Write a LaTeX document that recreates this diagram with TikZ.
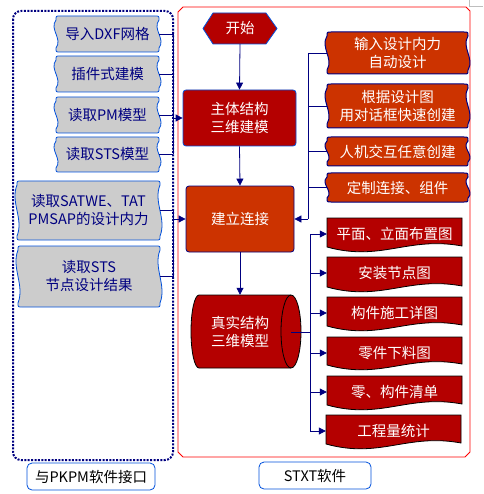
\documentclass[tikz,border=0pt]{standalone}
\usepackage{fontspec}
\newfontfamily\cjk{Noto Sans CJK SC}
\usetikzlibrary{arrows.meta}
\definecolor{dred}{RGB}{180,0,0}
\definecolor{ored}{RGB}{204,51,0}
\definecolor{gfill}{RGB}{204,204,204}
\definecolor{bbd}{RGB}{0,80,220}
\definecolor{navy}{RGB}{0,0,128}
\definecolor{lgray}{RGB}{190,190,190}
% wavy-sided box outline with rounded corners: x1 y1 x2 y2 style
\newcommand\wavyshape[5]{%
  \path[#5] ({#1+4},#2) -- ({#3-4},#2) .. controls (#3,#2) .. (#3,{#2+4})
    .. controls ({#3-7},{#2+4+(#4-#2-8)/3}) and ({#3+7},{#2+4+2*(#4-#2-8)/3}) .. (#3,{#4-4})
    .. controls (#3,#4) .. ({#3-4},#4) -- ({#1+4},#4) .. controls (#1,#4) .. (#1,{#4-4})
    .. controls ({#1+7},{#2+4+2*(#4-#2-8)/3}) and ({#1-7},{#2+4+(#4-#2-8)/3}) .. (#1,{#2+4})
    .. controls (#1,#2) .. cycle;}
% name x1 y1 x2 y2 shapestyle textstyle text
\newcommand\wbox[8]{%
  \wavyshape{#2}{#3}{#4}{#5}{#6}
  \node[#7, minimum width={(#4-#2)*1pt}, minimum height={(#5-#3)*1pt}] (#1) at ({(#2+#4)/2},{(#3+#5)/2}) {#8};}
% document shape: name x1 y1 x2 yb text
\newcommand\dbox[6]{%
  \path[docbox] (#2,#3) -- (#4,#3) -- (#4,{#5-6}) .. controls ({#4-0.4*(#4-#2)},{#5-16}) and ({#2+0.4*(#4-#2)},{#5+10}) .. (#2,{#5-5}) -- cycle;
  \node[wtext, minimum width={(#4-#2)*1pt}] (#1) at ({(#2+#4)/2},{#3+16}) {#6};}
\tikzset{
  gbox/.style={fill=gfill, draw=bbd, line width=0.8pt},
  obox/.style={fill=ored, draw=navy, line width=1pt},
  docbox/.style={fill=dred, draw=black, line width=0.8pt},
  gtext/.style={font=\cjk\fontsize{14.5}{18}\selectfont, text=navy, align=center, inner sep=0pt},
  wtext/.style={font=\cjk\fontsize{14.5}{18}\selectfont, text=white, align=center, inner sep=0pt},
  conn/.style={draw=navy, line width=0.8pt},
  arr/.style={conn, -{Triangle[length=7pt,width=7pt]}},
  lab/.style={draw=bbd, line width=0.8pt, rounded corners=5pt, fill=white, inner sep=0pt,
    font=\cjk\fontsize{14.5}{18}\selectfont, text=black},
}
\begin{document}
\begin{tikzpicture}[x=1pt,y=-1pt]
\useasboundingbox (0,0) rectangle (483,494);
% corner mark
\draw[lgray, line width=0.8pt] (469,0) -- (469,6) -- (483,6);
% frames
\draw[navy, line width=2pt, dash pattern=on 2pt off 1.4pt, rounded corners=8pt] (13,11) rectangle (173,460);
\draw[red, line width=0.8pt] (183,7) -- (466,7) -- (470,11) -- (470,452) -- (465,457) -- (183,457) -- (178,452) -- (178,12) -- cycle;
% left gray boxes
\wbox{g1}{56}{16}{159}{52}{gbox}{gtext}{导入DXF网格}
\wbox{g2}{56}{56}{159}{92}{gbox}{gtext}{插件式建模}
\wbox{g3}{56}{97}{159}{133}{gbox}{gtext}{读取PM模型}
\wbox{g4}{56}{137}{159}{172}{gbox}{gtext}{读取STS模型}
\wbox{g5}{17}{181}{160}{240}{gbox}{gtext}{读取SATWE、TAT\\PMSAP的设计内力}
\wbox{g6}{18}{246}{160}{307}{gbox}{gtext}{读取STS\\节点设计结果}
% right orange boxes
\wbox{o1}{327}{32}{468}{74}{obox}{wtext}{输入设计内力\\自动设计}
\wbox{o2}{327}{84}{468}{128}{obox}{wtext}{根据设计图\\用对话框快速创建}
\wbox{o3}{327}{137}{468}{166}{obox}{wtext}{人机交互任意创建}
\wbox{o4}{327}{173}{468}{202}{obox}{wtext}{定制连接、组件}
% document boxes
\dbox{d1}{327}{218}{462}{252}{平面、立面布置图}
\dbox{d2}{327}{257}{462}{292}{安装节点图}
\dbox{d3}{327}{297}{462}{331}{构件施工详图}
\dbox{d4}{327}{337}{462}{370}{零件下料图}
\dbox{d5}{327}{376}{462}{410}{零、构件清单}
\dbox{d6}{326}{415}{461}{449}{工程量统计}
% start
\path[fill=dred, draw=bbd, line width=0.8pt] (203,28.5) -- (213,13) -- (266,13) -- (277,28.5) -- (266,44) -- (213,44) -- cycle;
\node[wtext, minimum width=74pt, minimum height=31pt] (start) at (240,28.5) {开始};
% main boxes
\node[wtext, fill=dred, draw=bbd, line width=0.8pt, rounded corners=3pt, minimum width=113pt, minimum height=56pt] (main) at (239.5,118) {主体结构\\三维建模};
\node[wtext, fill=ored, draw=navy, line width=0.8pt, rounded corners=3pt, minimum width=108pt, minimum height=66pt] (link) at (240,219) {建立连接};
% cylinder
\path[fill=dred, draw=black, line width=0.8pt] (291,295) arc (-90:90:10 and 36.5) -- (199,368) arc (90:270:8 and 36.5) -- cycle;
\draw[black, line width=0.8pt] (291,295) arc (270:90:10 and 36.5);
\node[wtext, minimum width=112pt, minimum height=73pt] (cyl) at (240,331.5) {真实结构\\三维模型};
\coordinate (cylend) at (291,332);
% bus coordinates
\coordinate (busL) at (173,0);
\coordinate (busR) at (308,0);
\coordinate (busD) at (310,0);
% left upper bus
\foreach \n in {g1,g2,g3,g4} \draw[conn] (\n.east) -- (\n.east -| busL);
\draw[conn] (g1.east -| busL) -- (g4.east -| busL);
\draw[arr] (main.west -| busL) -- (main.west);
% left lower bus
\foreach \n in {g5,g6} \draw[conn] (\n.east) -- (\n.east -| busL);
\draw[conn] (g5.east -| busL) -- (g6.east -| busL);
\draw[arr] (link.west -| busL) -- (link.west);
% right upper bus
\foreach \n in {o1,o2,o3,o4} \draw[conn] (\n.west) -- (\n.west -| busR);
\draw[conn] (o1.west -| busR) -- (link.east -| busR);
\draw[arr] (link.east -| busR) -- (link.east);
% main column
\draw[arr] (start.south) -- (main.north);
\draw[arr] (main.south) -- (link.north);
\draw[arr] (link.south) -- (cyl.north);
% right lower bus
\draw[conn] (cylend) -- (cylend -| busD);
\draw[conn] (d1.west -| busD) -- (d6.west -| busD);
\foreach \n in {d1,d2,d3,d4,d5,d6} \draw[arr] (\n.west -| busD) -- (\n.west);
% labels
\node[lab, minimum width=128pt, minimum height=27pt] (lab1) at (91,476.5) {与PKPM软件接口};
\node[lab, minimum width=112pt, minimum height=27pt] (lab2) at (315,475.5) {STXT软件};
\end{tikzpicture}
\end{document}
